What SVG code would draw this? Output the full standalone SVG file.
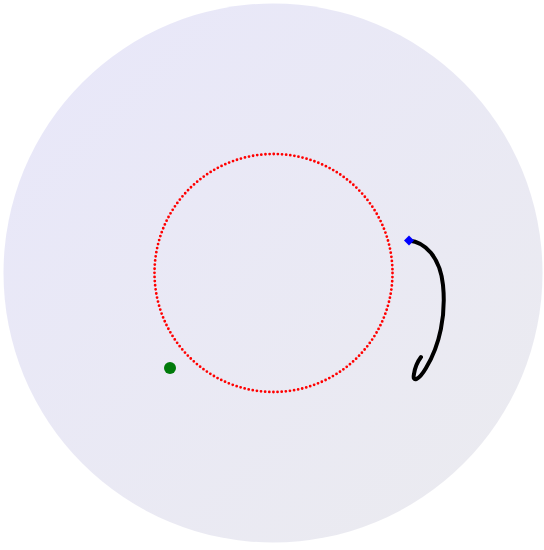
<svg xmlns="http://www.w3.org/2000/svg" width="544" height="550" viewBox="0 0 544 550">
  <defs>
    <linearGradient id="bg" x1="0" y1="0" x2="1" y2="1">
      <stop offset="0" stop-color="#e8e7fa"/>
      <stop offset="1" stop-color="#ebebef"/>
    </linearGradient>
    <style>
      .orbit { fill: none; stroke: #ff0000; stroke-width: 2.8; stroke-linecap: round; stroke-dasharray: 0 4.154; }
      .trail { fill: none; stroke: #000000; stroke-width: 4; stroke-linecap: round; stroke-linejoin: round; }
    </style>
  </defs>
  <rect x="0" y="0" width="544" height="550" fill="#ffffff"/>
  <g id="disk">
    <circle cx="273" cy="273" r="269.5" fill="url(#bg)"/>
  </g>
  <g id="orbit">
    <circle class="orbit" cx="273.5" cy="273" r="119"/>
  </g>
  <g id="connectors">
    <path class="trail" d="M409,240.5 C425,242 440,257 443,285 C446,315 440,345 426,368 C419,380 412,383 414,374 C415,367 418,361 421,357"/>
  </g>
  <g id="green-point">
    <circle cx="170" cy="368" r="6" fill="#007a0a"/>
  </g>
  <g id="blue-point">
    <polygon points="409,235.5 414,240.5 409,245.5 404,240.5" fill="#0000ff"/>
  </g>
</svg>
